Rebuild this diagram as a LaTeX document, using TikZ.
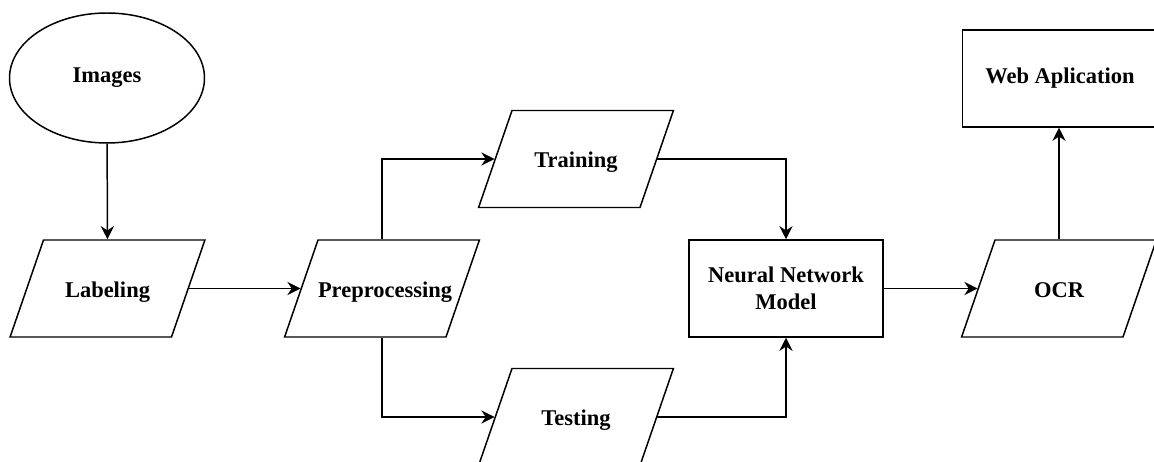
\documentclass[tikz,border=0pt]{standalone}
\usepackage{fontspec}
\setmainfont{Liberation Serif}
\usepackage{tikz}
\usetikzlibrary{calc,positioning,arrows.meta,shapes}
\usetikzlibrary{shapes.geometric}
\tikzstyle{io}        = [trapezium, trapezium left angle=71, trapezium right angle=109, text width=2.56cm, inner sep=0pt, text height=1.14cm, text depth=0.8cm, align=center, draw=black, line width=0.85pt]
\tikzstyle{process}   = [rectangle, minimum width=3.88cm, minimum height=1.94cm, text centered, align=center, draw=black, line width=0.85pt]
\tikzstyle{startstop} = [ellipse, minimum width=3.9cm, minimum height=2.6cm, inner sep=0pt, draw=black, line width=0.85pt]
\tikzstyle{arrow}     = [line width=0.85pt,->,>={Stealth[length=7.5pt,width=7.5pt,inset=2.5pt]}]

\begin{document}
\begin{tikzpicture}[font=\fontsize{12.8}{15.2}\selectfont\bfseries]
		\useasboundingbox (0,0) rectangle (23.08,-9.24);

		% source and labelling
		\node[startstop] (images) at (2.14,-1.56) {Images};
		\node[io] (labeling) at (2.15,-5.77) {Labeling};
		\node[io] (prep) at (7.64,-5.77) {Preprocessing};

		% data split
		\node[io] (train) at (11.52,-3.18) {Training};
		\node[io] (test) at (11.52,-8.34) {Testing};

		% model and output
		\node[process] (nn) at (15.72,-5.77) {Neural Network\\Model};
		\node[io] (ocr) at (21.18,-5.77) {OCR};
		\node[process, minimum width=3.9cm] (web) at (21.2,-1.57) {Web Aplication};

		\draw[arrow] (images) -- (labeling);
		\draw[arrow] (labeling.east) -- (prep.west);
		\draw[arrow] (prep.center |- prep.north) |- (train.west);
		\draw[arrow] (prep.center |- prep.south) |- (test.west);
		\draw[arrow] (train.east) -| (nn.north);
		\draw[arrow] (test.east) -| (nn.south);
		\draw[arrow] (nn.east) -- (ocr.west);
		\draw[arrow] (ocr.center |- ocr.north) -- (ocr.center |- web.south);
	\end{tikzpicture}
\end{document}
